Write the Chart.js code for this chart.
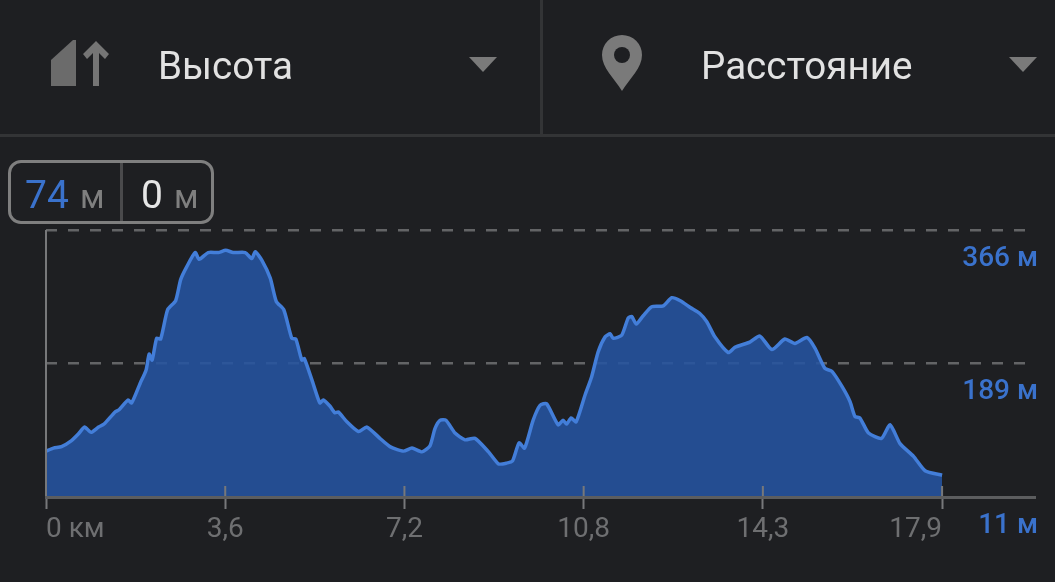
<!DOCTYPE html>
<html>
<head>
<meta charset="utf-8">
<script src="https://cdn.jsdelivr.net/npm/chart.js@4"></script>
<style>
    body { margin: 0; background: #1e1f22; font-family: Roboto, sans-serif; width: 1055px; height: 582px; overflow: hidden; position: relative; }
    canvas { position: absolute; left: 0; top: 0; }
    .t { position: absolute; white-space: nowrap; }
    .head { font-size: 38.6px; line-height: 38px; top: 47px; color: #e2e2e2; }
    .num { font-size: 39px; line-height: 38px; top: 176px; }
    .unit { font-size: 33px; line-height: 32px; top: 181px; color: #7f7f7f; }
    .line { position: absolute; background: #333436; }
    #box { position: absolute; left: 8px; top: 160px; width: 200px; height: 58px; border: 3px solid #7f7f7f; border-radius: 13px; }
    svg { position: absolute; left: 0; top: 0; }
</style>
</head>
<body>
<canvas id="chart" width="1055" height="582"></canvas>

<div class="line" style="left:0;top:134px;width:1055px;height:3px"></div>
<div class="line" style="left:540px;top:0;width:3px;height:135px"></div>

<svg width="1055" height="135">
    <polygon points="51,60 73,40 76,40 76,86 51,86" fill="#6b6b6b"/>
    <polygon points="93,86 99,86 99,53 105,59 109,54 96,41 83,54 87,59 93,53" fill="#757575"/>
    <polygon points="469,57 497,57 483,72" fill="#7a7a7a"/>
    <polygon points="1009,57 1037,57 1023,72" fill="#7a7a7a"/>
    <path d="M622 91 C614 78 602 68 602 55 A20 20 0 0 1 642 55 C642 68 630 78 622 91 Z" fill="#7a7a7a"/>
    <circle cx="622" cy="55" r="8" fill="#1e1f22"/>
</svg>

<div class="t head" style="left:158px">Высота</div>
<div class="t head" style="left:701px">Расстояние</div>

<div id="box"></div>
<div class="line" style="left:120px;top:163px;width:3px;height:58px;background:#4a4a4c"></div>
<div class="t num" style="left:25px;color:#3a72cc">74</div>
<div class="t unit" style="left:80px">м</div>
<div class="t num" style="left:141px;color:#e6e6e6">0</div>
<div class="t unit" style="left:174px">м</div>

<script>
// km along the route, height in metres
const distances = [0, 0.15, 0.31, 0.51, 0.65, 0.77, 0.9, 1.05, 1.16, 1.38, 1.46, 1.64, 1.71, 1.88, 2, 2.06, 2.12, 2.21, 2.29, 2.43,
    2.59, 2.69, 2.81, 2.98, 3.06, 3.24, 3.44, 3.59, 3.74, 3.98, 4.11, 4.18, 4.31, 4.48, 4.6, 4.75, 4.91, 4.99, 5.11, 5.16,
    5.31, 5.47, 5.54, 5.67, 5.77, 5.84, 6.01, 6.24, 6.41, 6.67, 6.87, 7.14, 7.31, 7.51, 7.67, 7.77, 7.87, 7.99, 8.17, 8.37,
    8.57, 8.84, 9.04, 9.2, 9.32, 9.45, 9.56, 9.73, 9.87, 10, 10.23, 10.33, 10.4, 10.49, 10.59, 10.77, 10.9, 11.03, 11.17, 11.27,
    11.33, 11.5, 11.63, 11.7, 11.79, 11.93, 12.1, 12.33, 12.5, 12.67, 12.87, 13.06, 13.2, 13.36, 13.63, 13.76, 14.06, 14.26, 14.5, 14.76,
    14.96, 15.2, 15.36, 15.56, 15.7, 15.9, 16.06, 16.16, 16.26, 16.43, 16.69, 16.86, 17.06, 17.33, 17.56, 17.9];
const heights = [72, 76, 78, 86, 95, 104, 97, 104, 108, 124, 127, 140, 136, 162, 180, 201, 193, 222, 221, 260,
    272, 300, 317, 336, 327, 336, 336, 339, 336, 336, 328, 337, 326, 302, 271, 260, 222, 221, 193, 195,
    167, 136, 140, 132, 123, 124, 111, 98, 104, 89, 78, 72, 76, 71, 79, 102, 113, 113, 96, 87,
    89, 71, 55, 56, 59, 83, 76, 113, 133, 135, 107, 113, 108, 116, 111, 147, 171, 204, 224, 228,
    222, 226, 249, 251, 241, 252, 264, 265, 276, 272, 263, 255, 244, 224, 203, 210, 217, 225, 207, 221,
    215, 223, 209, 182, 178, 158, 138, 118, 116, 96, 89, 107, 82, 65, 46, 40];

const xTicks = [0, 3.58, 7.16, 10.74, 14.32, 17.9];
const xLabels = ["0 км", "3,6", "7,2", "10,8", "14,3", "17,9"];
const yTicks = [11, 189, 366];
const yLabels = ["11 м", "189 м", "366 м"];

const points = [];
for (let i = 0; i < distances.length; i++) {
    points.push({ x: distances[i], y: heights[i] });
}

// the vertical axis line and the short stubs above the baseline
const axisMarks = {
    id: "axisMarks",
    afterDatasetsDraw(chart) {
        const ctx = chart.ctx;
        const x = chart.scales.x;
        const y = chart.scales.y;
        const bottom = y.getPixelForValue(11);
        ctx.save();
        ctx.strokeStyle = "#77787a";
        ctx.lineWidth = 2;
        ctx.beginPath();
        ctx.moveTo(x.getPixelForValue(0), y.getPixelForValue(366));
        ctx.lineTo(x.getPixelForValue(0), bottom);
        for (let i = 1; i < xTicks.length; i++) {
            ctx.moveTo(x.getPixelForValue(xTicks[i]), bottom - 11);
            ctx.lineTo(x.getPixelForValue(xTicks[i]), bottom);
        }
        ctx.stroke();
        ctx.restore();
    },
};

new Chart(document.getElementById("chart"), {
    type: "line",
    data: {
        datasets: [{
            data: points,
            borderColor: "#437ed9",
            borderWidth: 3.5,
            backgroundColor: "rgba(38, 84, 160, 0.88)",
            fill: "start",
            pointRadius: 0,
            tension: 0.2,
        }],
    },
    options: {
        responsive: false,
        animation: false,
        layout: { padding: { left: 46, right: 20, top: 230, bottom: 0 } },
        plugins: { legend: { display: false }, tooltip: { enabled: false } },
        scales: {
            x: {
                type: "linear",
                min: 0,
                max: 19.756,
                afterFit(scale) { scale.height = 85; },
                afterBuildTicks(scale) { scale.ticks = xTicks.map(v => ({ value: v })); },
                grid: { drawOnChartArea: false, tickLength: 12, tickWidth: 2, tickColor: "#77787a" },
                border: { color: "#5c5d5f", width: 3, z: 1 },
                ticks: {
                    align: "inner",
                    maxRotation: 0,
                    autoSkip: false,
                    padding: 4,
                    color: "#6e6f71",
                    font: { family: "Roboto", size: 28 },
                    callback: (v, i) => xLabels[i],
                },
            },
            y: {
                position: "right",
                min: 11,
                max: 366,
                afterFit(scale) { scale.width = 0; },
                afterBuildTicks(scale) { scale.ticks = yTicks.map(v => ({ value: v })); },
                grid: {
                    drawTicks: false,
                    color: "#636466",
                    lineWidth: 2.5,
                },
                border: { display: false, dash: [11, 11] },
                ticks: {
                    mirror: true,
                    padding: 3,
                    labelOffset: 29,
                    color: "#3a72cc",
                    font: { family: "Roboto", size: 28, weight: "500" },
                    callback: (v, i) => yLabels[i],
                },
            },
        },
    },
    plugins: [axisMarks],
});
</script>
</body>
</html>
